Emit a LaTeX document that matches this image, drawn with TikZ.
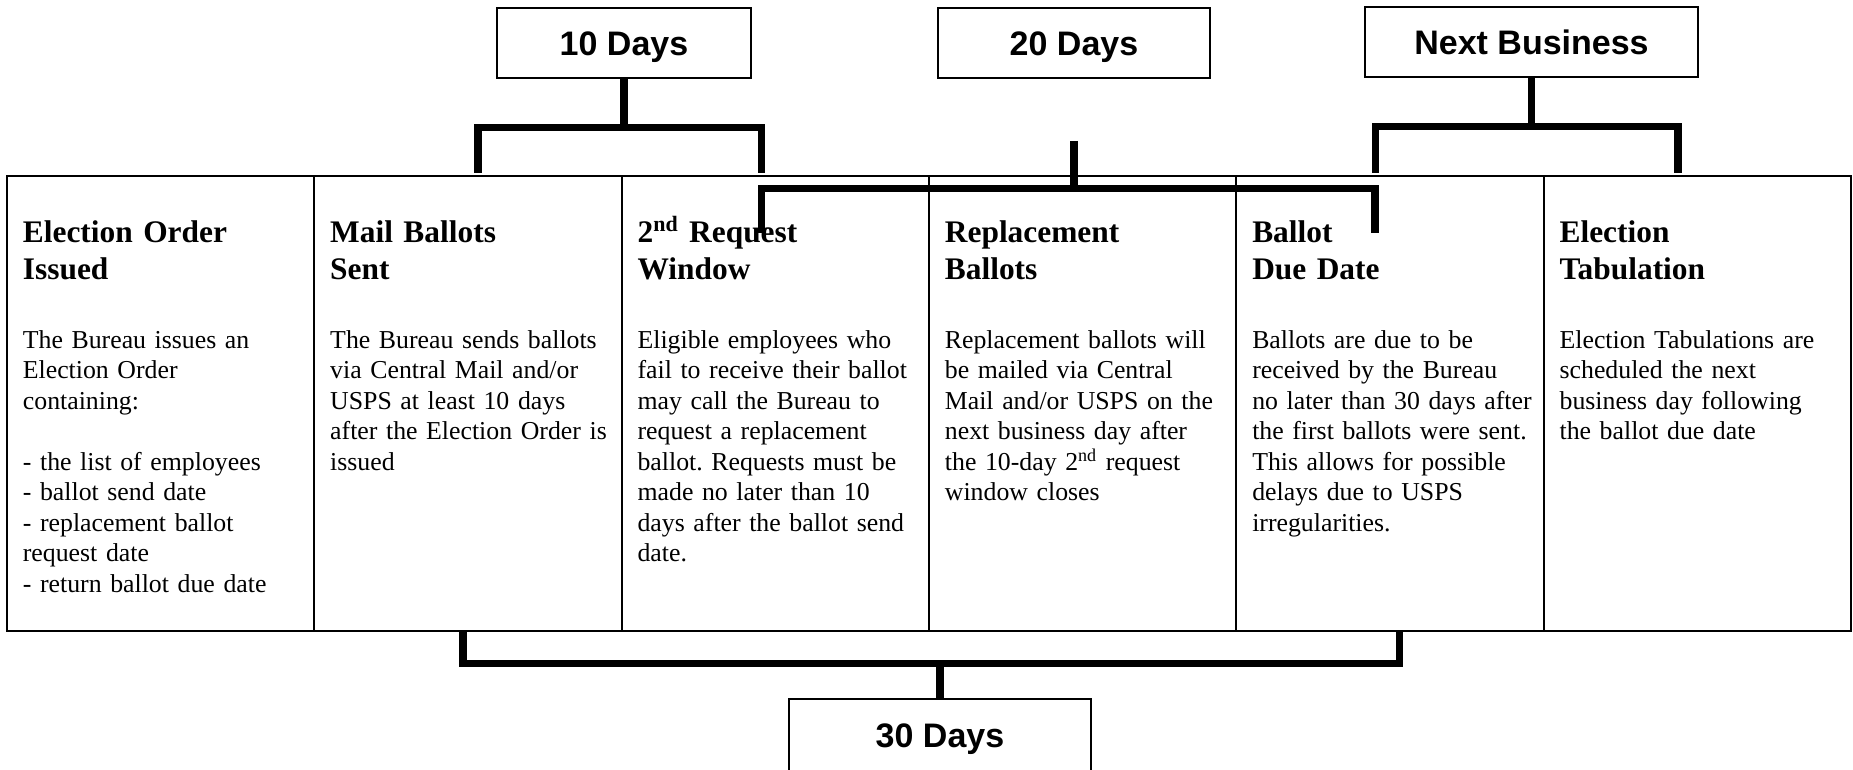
\documentclass[tikz,border=0pt]{standalone}
\usepackage{fontspec}
\setmainfont{Liberation Serif}
\setsansfont{Liberation Sans}
\usetikzlibrary{positioning,calc}
\frenchspacing

\begin{document}
\begin{tikzpicture}[x=0.5pt,y=0.5pt,
  col/.style={draw,line width=1pt,minimum width=153.67pt,minimum height=227.5pt,inner sep=0pt,outer sep=0pt},
  ttl/.style={anchor=north west,align=left,text width=144pt,inner sep=0pt,font=\bfseries\fontsize{15.7}{18.5}\selectfont},
  txt/.style={anchor=north west,align=left,text width=144pt,inner sep=0pt,font=\fontsize{12.9}{15.25}\selectfont},
  days/.style={draw,line width=1pt,minimum height=35pt,inner sep=0pt,text height=12.2pt,text depth=0pt,font=\sffamily\bfseries\fontsize{17}{20}\selectfont},
  bracket/.style={line width=3.75pt}]
  \useasboundingbox (0,0) rectangle (1853,770);
  \clip (0,0) rectangle (1853,770);

  % the six steps
  \node[col] (c1) at (160.67,366.5) {};
  \node[col,right=0pt of c1] (c2) {};
  \node[col,right=0pt of c2] (c3) {};
  \node[col,right=0pt of c3] (c4) {};
  \node[col,right=0pt of c4] (c5) {};
  \node[col,right=0pt of c5] (c6) {};

  \node[ttl] (t1) at ($(c1.north west)+(15.5,-40)$) {\strut Election Order\\Issued};
  \node[ttl] (t2) at ($(c2.north west)+(15.5,-40)$) {\strut Mail Ballots\\Sent};
  \node[ttl] (t3) at ($(c3.north west)+(15.5,-40)$) {\strut 2\textsuperscript{nd} Request\\Window};
  \node[ttl] (t4) at ($(c4.north west)+(15.5,-40)$) {\strut Replacement\\Ballots};
  \node[ttl] (t5) at ($(c5.north west)+(15.5,-40)$) {\strut Ballot\\Due Date};
  \node[ttl] (t6) at ($(c6.north west)+(15.5,-40)$) {\strut Election\\Tabulation};

  \node[txt] (b1) at ($(c1.north west)+(15.5,-150.6)$) {\strut The Bureau issues an\\Election Order\\containing:\\[15.25pt]- the list of employees\\- ballot send date\\- replacement ballot\\request date\\- return ballot due date};
  \node[txt] (b2) at ($(c2.north west)+(15.5,-150.6)$) {\strut The Bureau sends ballots\\via Central Mail and/or\\USPS at least 10 days\\after the Election Order is\\issued};
  \node[txt] (b3) at ($(c3.north west)+(15.5,-150.6)$) {\strut Eligible employees who\\fail to receive their ballot\\may call the Bureau to\\request a replacement\\ballot. Requests must be\\made no later than 10\\days after the ballot send\\date.};
  \node[txt] (b4) at ($(c4.north west)+(15.5,-150.6)$) {\strut Replacement ballots will\\be mailed via Central\\Mail and/or USPS on the\\next business day after\\the 10-day 2\textsuperscript{nd} request\\window closes};
  \node[txt] (b5) at ($(c5.north west)+(15.5,-150.6)$) {\strut Ballots are due to be\\received by the Bureau\\no later than 30 days after\\the first ballots were sent.\\This allows for possible\\delays due to USPS\\irregularities.};
  \node[txt] (b6) at ($(c6.north west)+(15.5,-150.6)$) {\strut Election Tabulations are\\scheduled the next\\business day following\\the ballot due date};

  % day counts
  \node[days,minimum width=127pt] (d10) at (624,726.5) {10 Days};
  \node[days,minimum width=136pt] (d20) at (1074,727) {20 Days};
  \node[days,minimum width=166.5pt] (dnb) at (1531.5,727.5) {Next Business};
  \node[days,minimum width=151pt,minimum height=36pt] (d30) at (940,35) {30 Days};

  % brackets
  \draw[bracket] ($(c2.north)+(10,3)$) |- ($(d10.south)+(0,-48)$) -| ($(c3.north)+(-13.8,3)$);
  \draw[bracket] (d10.south) -- ++(0,-48);

  \draw[bracket] ($(c5.north)+(-14.5,3)$) |- ($(dnb.south)+(0,-48)$) -| ($(c6.north)+(-19.3,3)$);
  \draw[bracket] (dnb.south) -- ++(0,-48);

  \coordinate (k20) at ($(d20.south)+(0,-62)$);
  \draw[bracket] ($(c3.north)+(-13.8,-57)$) |- ($(d20.south)+(0,-109.4)$) -| ($(c5.north)+(-15,-57)$);
  \draw[bracket] (k20) -- ($(d20.south)+(0,-109.4)$);

  \draw[bracket] ($(c2.south)+(-5.2,0)$) |- ($(d30.north)+(0,34.3)$) -| ($(c5.south)+(9.7,0)$);
  \draw[bracket] (d30.north) -- ++(0,34.3);
\end{tikzpicture}
\end{document}
